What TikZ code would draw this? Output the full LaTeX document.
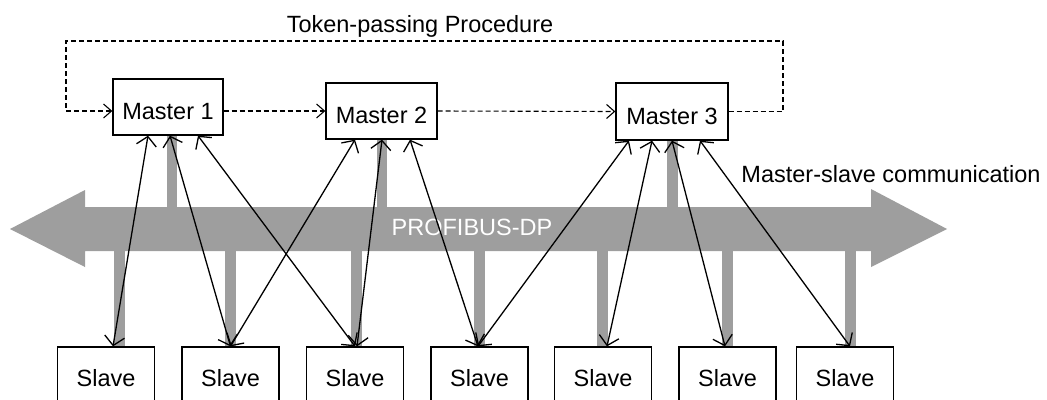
\documentclass[tikz,border=0pt]{standalone}
\usepackage{fontspec}
\setmainfont{Liberation Sans}
\usetikzlibrary{arrows.meta}
\definecolor{busgray}{rgb}{0.62,0.62,0.62}
\begin{document}
\begin{tikzpicture}[x=1pt,y=-1pt,
  font=\fontsize{23.5pt}{28pt}\selectfont,
  box/.style={draw, line width=1.3pt, inner sep=0pt, fill=white},
  masterbox/.style={box, minimum height=56pt, text depth=0pt},
  slavebox/.style={box, minimum width=97pt, minimum height=61pt, text height=17pt, text depth=0pt},
  link/.style={line width=1.3pt, {Straight Barb[length=9pt,width=20pt]}-{Straight Barb[length=9pt,width=20pt]}},
  token/.style={line width=1.1pt, dash pattern=on 5pt off 3pt, -{Straight Barb[length=8pt,width=14pt]}},
  stub/.style={fill=busgray}]
\clip (0,0) rectangle (1047,399);
\useasboundingbox (0,0) rectangle (1047,399);
% bus
\fill[busgray] (10,229) -- (85,190) -- (85,207) -- (871,207) -- (871,189) -- (947,229)
  -- (871,267) -- (871,251) -- (85,251) -- (85,267) -- cycle;
\node[text=white, anchor=base] (bus) at (472,235) {PROFIBUS-DP};
% stubs to masters
\fill[stub] (167,136) rectangle (177,208);
\fill[stub] (377,139) rectangle (387,208);
\fill[stub] (667,140) rectangle (678,208);
% stubs to slaves
\foreach \x in {119.5,230.5,356.5,479,602.5,727.5,850}
  \fill[stub] (\x-5.5,250) rectangle (\x+5.5,347);
% masters
\node[masterbox, minimum width=110pt, text height=24pt] (m1) at (168,107) {Master 1};
\node[masterbox, minimum width=111pt, text height=24pt] (m2) at (381.5,111) {Master 2};
\node[masterbox, minimum width=112pt, minimum height=57pt, text height=25pt] (m3) at (672,111.5) {Master 3};
% slaves
\node[slavebox] (s1) at (106,377.5) {Slave};
\node[slavebox] (s2) at (230.5,377.5) {Slave};
\node[slavebox] (s3) at (355,377.5) {Slave};
\node[slavebox] (s4) at (479.5,377.5) {Slave};
\node[slavebox] (s5) at (603,377.5) {Slave};
\node[slavebox] (s6) at (727.5,377.5) {Slave};
\node[slavebox] (s7) at (845,377.5) {Slave};
% token passing
\coordinate (tl) at (66,41);
\coordinate (tr) at (783,41);
\draw[token] ([yshift=-4pt]m1.east) -- (m2.west);
\draw[token] (m2.east) -- (m3.west);
\draw[token] (m3.east) -- (m3.east -| tr) -- (tr) -- (tl) -- (tl |- m2.west) -- ([yshift=-4pt]m1.west);
\node[anchor=base] (tp) at (420,32) {Token-passing Procedure};
\node[anchor=base] (ms) at (891,182) {Master-slave communication};
% master-slave links
\draw[link] ([xshift=-20pt]m1.south) -- ([xshift=7pt]s1.north);
\draw[link] ([xshift=2pt]m1.south) -- (s2.north);
\draw[link] ([xshift=30pt]m1.south) -- (s3.north);
\draw[link] ([xshift=-26.5pt]m2.south) -- (s2.north);
\draw[link] ([xshift=0.5pt]m2.south) -- ([xshift=2pt]s3.north);
\draw[link] ([xshift=28.5pt]m2.south) -- ([xshift=-1.5pt]s4.north);
\draw[link] ([xshift=-43pt]m3.south) -- ([xshift=-1.5pt]s4.north);
\draw[link] ([xshift=-20pt]m3.south) -- ([xshift=4pt]s5.north);
\draw[link] (m3.south) -- ([xshift=-2.5pt]s6.north);
\draw[link] ([xshift=28pt]m3.south) -- ([xshift=5pt]s7.north);
\end{tikzpicture}
\end{document}
